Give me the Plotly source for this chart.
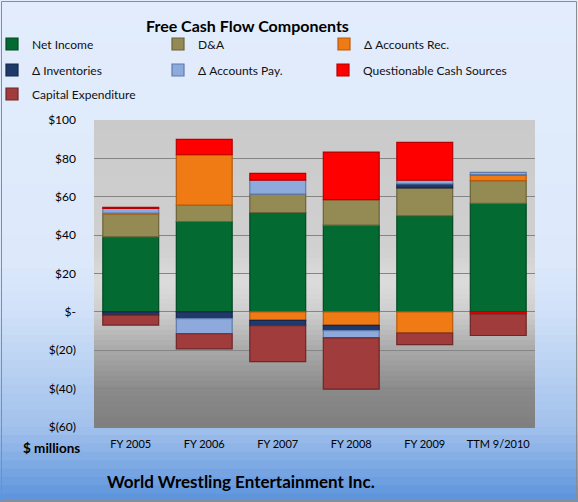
import plotly.graph_objects as go

# ---------------- data ----------------
categories = ["FY 2005", "FY 2006", "FY 2007", "FY 2008", "FY 2009", "TTM 9/2010"]
net_income = [39.1, 47.1, 51.8, 45.2, 50.1, 56.5]
d_and_a = [11.9, 8.6, 9.6, 13.3, 14.5, 11.9]
accounts_rec = [0.5, 26.2, -4.4, -7.0, -11.0, 3.1]
inventories = [-1.7, -3.5, -2.8, -2.8, 2.1, 0.0]
accounts_pay = [2.4, -7.9, 7.3, -3.8, 1.9, 1.2]
questionable = [0.6, 8.0, 3.5, 24.8, 19.7, -1.0]
capex = [-5.2, -7.9, -18.7, -26.7, -6.1, -11.3]

series_names = ["Net Income", "D&A", "Δ Accounts Rec.", "Δ Inventories",
                "Δ Accounts Pay.", "Questionable Cash Sources", "Capital Expenditure"]
series_values = [net_income, d_and_a, accounts_rec, inventories,
                 accounts_pay, questionable, capex]
series_colors = ["#036b32", "#948a54", "#f07a14", "#1f3a68", "#8eaadc", "#ff0000", "#a03c3c"]
series_edges = ["#024a22", "#6b633a", "#b85a0a", "#14264a", "#5f7bab", "#b80000", "#6e2626"]
legend_ids = ["legend", "legend", "legend", "legend2", "legend2", "legend4", "legend3"]

y_tickvals = [-60, -40, -20, 0, 20, 40, 60, 80, 100]
y_ticktext = ["$(60)", "$(40)", "$(20)", "$-", "$20", "$40", "$60", "$80", "$100"]

# ---------------- layout geometry ----------------
W, H = 578, 502
L, R, T, B = 94, 43, 120, 75
PW, PH = W - L - R, H - T - B


def px_x(px):
    return (px - L) / PW


def px_y(py):
    return (H - B - py) / PH


def hex_to_rgb(h):
    h = h.lstrip("#")
    return tuple(int(h[i:i + 2], 16) for i in (0, 2, 4))


def interp(stops, t):
    for (t0, c0), (t1, c1) in zip(stops, stops[1:]):
        if t0 <= t <= t1:
            f = 0 if t1 == t0 else (t - t0) / (t1 - t0)
            a, b = hex_to_rgb(c0), hex_to_rgb(c1)
            return "rgb(%d,%d,%d)" % tuple(round(a[i] + (b[i] - a[i]) * f) for i in range(3))
    return stops[-1][1]


fig = go.Figure()
for name, vals, col, edge, lg in zip(series_names, series_values, series_colors,
                                      series_edges, legend_ids):
    fig.add_trace(go.Bar(
        x=categories, y=vals, name=name,
        marker=dict(color=col, line=dict(color=edge, width=1.2)),
        legend=lg, hoverinfo="skip",
    ))

shapes = []
# outer background gradient (top -> bottom in pixel fractions)
outer_stops = [(0.0, "#e2ecfc"), (0.52, "#dde9fb"), (0.62, "#d0e1f8"),
               (0.85, "#a2c1ec"), (1.0, "#5a92dc")]
N = 60
for i in range(N):
    y0 = H * i / N
    y1 = H * (i + 1) / N + 0.8
    shapes.append(dict(type="rect", xref="paper", yref="paper", layer="below",
                       x0=px_x(0), x1=px_x(W), y0=px_y(y1), y1=px_y(y0),
                       fillcolor=interp(outer_stops, (i + 0.5) / N), line=dict(width=0)))
# outer border
shapes.append(dict(type="rect", xref="paper", yref="paper", layer="above",
                   x0=px_x(1.5), x1=px_x(W - 1.5), y0=px_y(H - 1.5), y1=px_y(1.5),
                   fillcolor="rgba(0,0,0,0)", line=dict(color="#8c8c8c", width=1)))
# plot-area gradient
plot_stops = [(0.0, "#cacaca"), (0.42, "#d0d0d0"), (0.53, "#dcdcdc"),
              (0.62, "#cfcfcf"), (0.75, "#a9a9a9"), (0.88, "#8a8a8a"), (1.0, "#7f7f7f")]
M = 60
for i in range(M):
    t0 = i / M
    t1 = (i + 1) / M
    shapes.append(dict(type="rect", xref="x domain", yref="y domain", layer="below",
                       x0=0, x1=1, y0=1 - t1 - 0.003, y1=1 - t0,
                       fillcolor=interp(plot_stops, (t0 + t1) / 2), line=dict(width=0)))

annotations = [
    dict(text="<b>Free Cash Flow Components</b>", xref="paper", yref="paper",
         x=px_x(247), y=px_y(25), xanchor="center", yanchor="middle", showarrow=False,
         font=dict(family="Lato", size=16, color="#000000")),
    dict(text="<b>$ millions</b>", xref="paper", yref="paper",
         x=px_x(21), y=px_y(448), xanchor="left", yanchor="middle", showarrow=False,
         font=dict(family="Lato", size=13.5, color="#000000")),
    dict(text="<b>World Wrestling Entertainment Inc.</b>", xref="paper", yref="paper",
         x=px_x(105), y=px_y(481), xanchor="left", yanchor="middle", showarrow=False,
         font=dict(family="Lato", size=17, color="#000000")),
]

legend_common = dict(orientation="h", xanchor="left", yanchor="middle",
                     bgcolor="rgba(0,0,0,0)", borderwidth=0,
                     font=dict(family="Lato", size=12, color="#111111"),
                     entrywidth=121, entrywidthmode="pixels", itemclick=False,
                     itemdoubleclick=False, traceorder="normal")
lx = px_x(-8)
lx3 = px_x(323)
legend4_common = dict(legend_common, entrywidth=190)

fig.update_layout(
    width=W, height=H,
    margin=dict(l=L, r=R, t=T, b=B, pad=0, autoexpand=False),
    paper_bgcolor="#e2ecfc", plot_bgcolor="rgba(0,0,0,0)",
    barmode="relative", bargap=0.24,
    font=dict(family="Lato", size=12, color="#000000"),
    showlegend=True,
    legend=dict(x=lx, y=px_y(44), **legend_common),
    legend2=dict(x=lx, y=px_y(70), **legend_common),
    legend3=dict(x=lx, y=px_y(94), **legend_common),
    legend4=dict(x=lx3, y=px_y(70), **legend4_common),
    shapes=shapes, annotations=annotations,
    xaxis=dict(showgrid=False, showline=False, ticks="", zeroline=False,
               tickfont=dict(family="Lato", size=11, color="#000000"),
               ticklabelstandoff=9, fixedrange=True),
    yaxis=dict(range=[-60, 100], tickvals=y_tickvals, ticktext=y_ticktext,
               showgrid=True, gridcolor="#858585", gridwidth=1,
               zeroline=False, showline=False, ticks="",
               tickfont=dict(family="Lato", size=12, color="#000000"),
               ticklabelstandoff=17, fixedrange=True),
)

fig.write_html("out.html", config={"displayModeBar": False, "staticPlot": True})
